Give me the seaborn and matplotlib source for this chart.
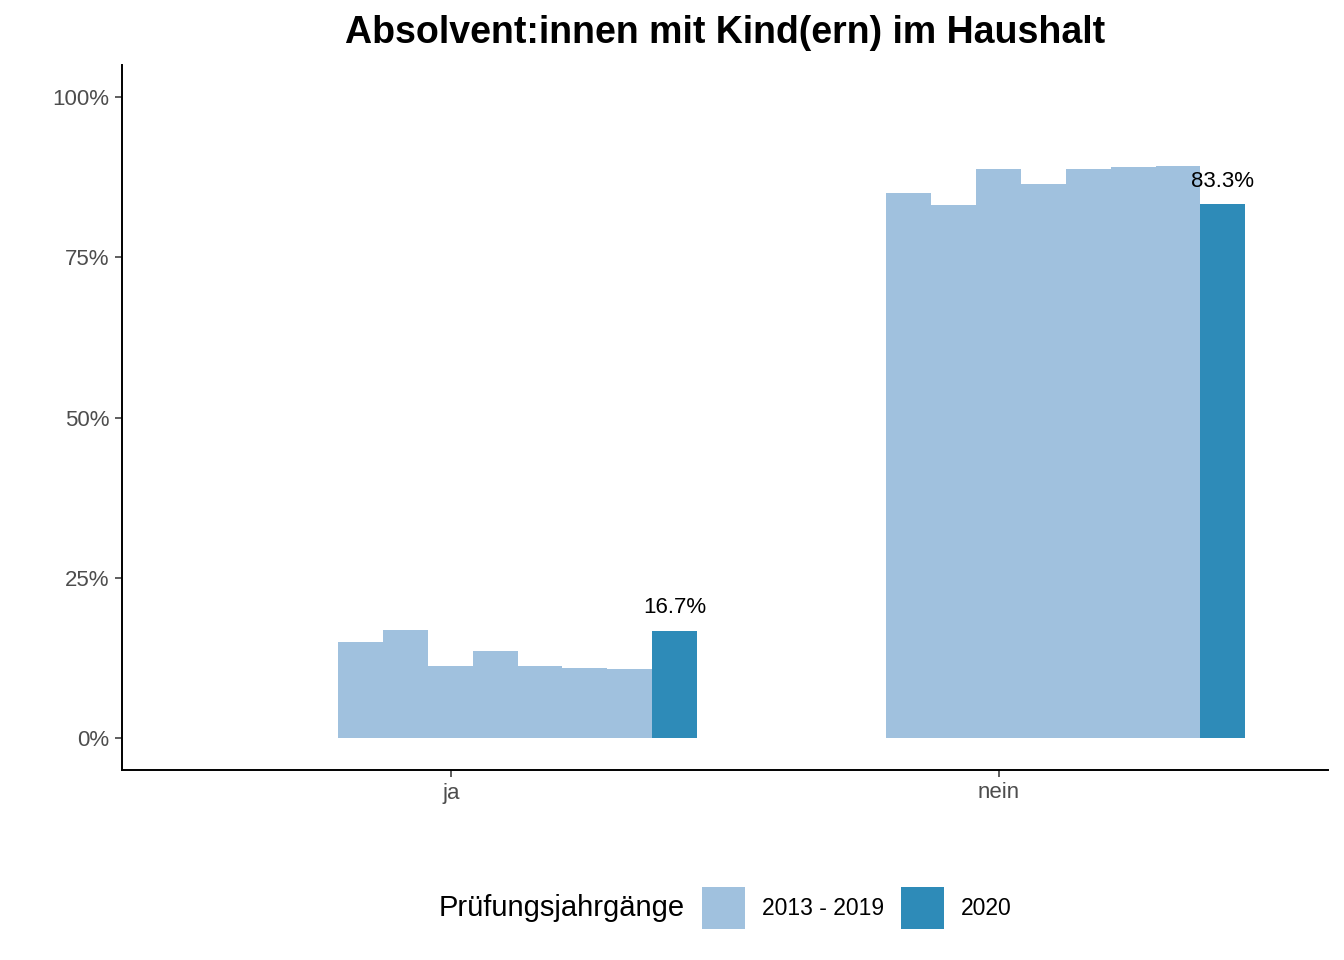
import numpy as np
import pandas as pd
import seaborn as sns
import matplotlib
matplotlib.use("Agg")
import matplotlib.pyplot as plt
from matplotlib.patches import Patch
from matplotlib.ticker import PercentFormatter

# ---- data ----
categories = ["ja", "nein"]
years = ["2013", "2014", "2015", "2016", "2017", "2018", "2019", "2020"]
ja_values = [14.9, 16.9, 11.3, 13.5, 11.3, 10.9, 10.8, 16.7]
nein_values = [85.1, 83.1, 88.7, 86.5, 88.7, 89.1, 89.2, 83.3]
legend_labels = ["2013 - 2019", "2020"]
colors = ["#a0c1de", "#2e8bb8"]

sns.set_theme(style="white")
plt.rcParams["font.family"] = ["Liberation Sans", "DejaVu Sans"]

# build long table; bars are dodged to the right of each category tick
step = 0.0819
first = -0.165
rows = []
for ci, (cat, vals) in enumerate(zip(categories, [ja_values, nein_values])):
    for k, (yr, v) in enumerate(zip(years, vals)):
        rows.append({
            "pos": ci + first + k * step,
            "value": v / 100.0,
            "group": legend_labels[1] if yr == "2020" else legend_labels[0],
            "year": yr,
        })
df = pd.DataFrame(rows)

fig = plt.figure(figsize=(13.44, 9.6), dpi=100)
ax = fig.add_axes([122 / 1344, 1 - 770 / 960, (1328 - 122) / 1344, (770 - 65) / 960])

sns.barplot(data=df, x="pos", y="value", hue="group", native_scale=True,
            dodge=False, width=1.0, palette=colors, hue_order=legend_labels,
            errorbar=None, saturation=1, linewidth=0, edgecolor="none",
            legend=False, ax=ax)

ax.set_xlim(-0.6, 1.6)
ax.set_ylim(-0.05, 1.05)
ax.set_xticks([0, 1])
ax.set_xticklabels(categories)
ax.set_yticks([0, 0.25, 0.5, 0.75, 1.0])
ax.yaxis.set_major_formatter(PercentFormatter(xmax=1, decimals=0))
ax.set_xlabel("")
ax.set_ylabel("")

for side in ["top", "right"]:
    ax.spines[side].set_visible(False)
for side in ["left", "bottom"]:
    ax.spines[side].set_color("black")
    ax.spines[side].set_linewidth(1.4)

ax.tick_params(axis="both", which="major", length=5, width=1.1, color="#333333",
               labelsize=16, labelcolor="#4d4d4d", pad=4, left=True, bottom=True)

# labels for 2020 bars
d20 = df[df["year"] == "2020"]
for _, r in d20.iterrows():
    ax.annotate(f"{r['value'] * 100:.1f}%", xy=(r["pos"], r["value"]),
                xytext=(0, 9), textcoords="offset points",
                ha="center", va="bottom", fontsize=16, color="black")

ax.set_title("Absolvent:innen mit Kind(ern) im Haushalt", fontsize=27,
             fontweight="bold", pad=16, color="black")

# legend at bottom
fig.text(685 / 1344, 1 - 908 / 960, "Prüfungsjahrgänge", ha="right", va="center",
         fontsize=21, color="black")
handles = [Patch(facecolor=c, edgecolor="none") for c in colors]
fig.legend(handles, legend_labels, loc="center left",
           bbox_to_anchor=(702 / 1344, 1 - 908 / 960), ncol=2, frameon=False,
           fontsize=16.5, handlelength=1.88, handleheight=2.48,
           handletextpad=0.74, columnspacing=0.74, borderpad=0, borderaxespad=0,
           labelcolor="black")

fig.savefig("out.png", dpi=100)
